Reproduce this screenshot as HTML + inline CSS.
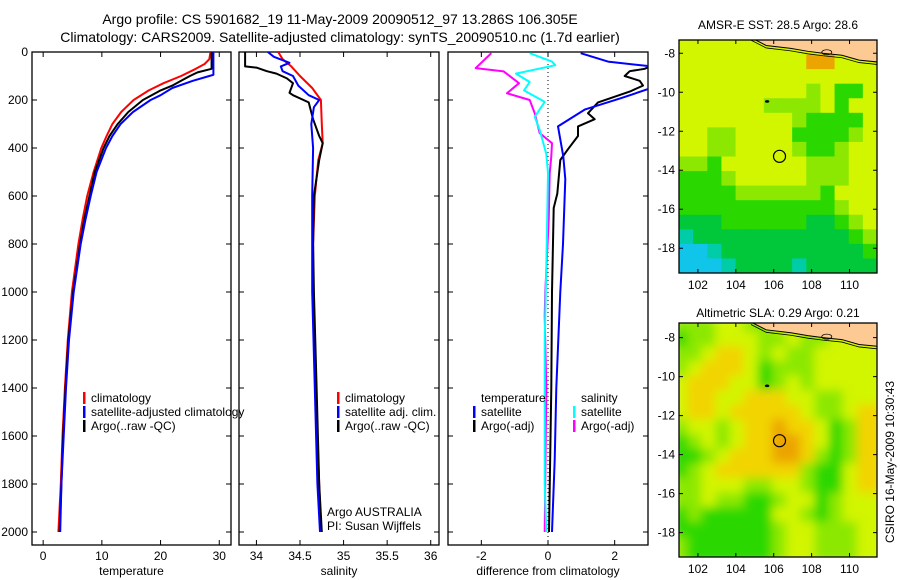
<!DOCTYPE html>
<html><head><meta charset="utf-8"><style>
html,body{margin:0;padding:0;background:#fff;width:900px;height:580px;overflow:hidden}
svg text{font-family:"Liberation Sans",sans-serif;fill:#000}
</style></head><body>
<svg id="fig" width="900" height="580" viewBox="0 0 900 580" xmlns="http://www.w3.org/2000/svg">
<defs>
<filter id="blur" x="0" y="0" width="1" height="1"><feGaussianBlur stdDeviation="5"/></filter>
<clipPath id="cp1"><rect x="32" y="52" width="199" height="493"/></clipPath>
<clipPath id="cp2"><rect x="239" y="52" width="200" height="493"/></clipPath>
<clipPath id="cp3"><rect x="448" y="52" width="200" height="493"/></clipPath>
<clipPath id="cpm1"><rect x="679" y="40" width="198" height="233"/></clipPath>
<clipPath id="cpm2"><rect x="679" y="323" width="198" height="234"/></clipPath>
</defs>
<text x="340" y="24" font-size="14" text-anchor="middle">Argo profile: CS 5901682_19 11-May-2009 20090512_97 13.286S 106.305E</text>
<text x="340" y="42" font-size="14" text-anchor="middle">Climatology: CARS2009. Satellite-adjusted climatology: synTS_20090510.nc (1.7d earlier)</text>
<g id="plots"></g>
<g id="maps"></g>
<text x="778" y="29" font-size="12" text-anchor="middle">AMSR-E SST: 28.5 Argo: 28.6</text>
<text x="778" y="317" font-size="12" text-anchor="middle">Altimetric SLA: 0.29 Argo: 0.21</text>
<text transform="translate(894,462) rotate(-90)" font-size="12" text-anchor="middle">CSIRO 16-May-2009 10:30:43</text>
</svg>
<script>
// ---- data ----
const depthTicks=[0,200,400,600,800,1000,1200,1400,1600,1800,2000];
const tempTicks=[0,10,20,30];
const salTicks=[34,34.5,35,35.5,36];
const diffTicks=[-2,0,2];
const tempClim=[[0,28.5],[30,28.3],[50,27.5],[70,26],[100,23.5],[130,20.5],[160,18],[200,15.4],[250,13.3],[300,11.8],[350,10.8],[400,9.9],[500,8.6],[600,7.5],[700,6.7],[800,6],[1000,4.9],[1200,4.2],[1400,3.7],[1600,3.3],[1800,3],[2000,2.6]];
const tempSat=[[0,29],[95,29],[100,28.3],[120,25.5],[150,22],[180,20],[200,18.3],[250,15.3],[300,13.2],[350,11.8],[400,10.7],[500,9.1],[600,8.1],[700,7.2],[800,6.4],[1000,5.2],[1200,4.4],[1400,3.9],[1600,3.5],[1800,3.1],[2000,2.9]];
const tempArgo=[[0,28.7],[70,28.7],[85,26.3],[100,25],[120,23.5],[140,22],[160,20],[200,17],[250,14.5],[300,12.7],[350,11.3],[400,10.3],[500,8.8],[600,7.9],[700,7],[800,6.3],[1000,5.1],[1200,4.3],[1400,3.8],[1600,3.4],[1800,3.1],[2000,2.8]];
const salClim=[[0,34.25],[30,34.3],[60,34.4],[100,34.5],[150,34.64],[200,34.74],[300,34.75],[380,34.76],[450,34.71],[600,34.67],[800,34.65],[1000,34.65],[1200,34.66],[1400,34.68],[1600,34.7],[1800,34.72],[2000,34.74]];
const salSat=[[0,34.13],[20,34.2],[45,34.38],[60,34.28],[80,34.3],[100,34.42],[140,34.48],[180,34.6],[200,34.72],[230,34.66],[300,34.63],[400,34.65],[600,34.64],[800,34.64],[1000,34.64],[1400,34.67],[1800,34.7],[2000,34.73]];
const salArgo=[[0,33.87],[60,33.87],[65,34.0],[80,34.12],[90,34.23],[110,34.35],[130,34.42],[170,34.38],[180,34.42],[210,34.6],[280,34.65],[350,34.72],[380,34.76],[450,34.72],[600,34.66],[800,34.65],[1000,34.66],[1400,34.69],[1800,34.72],[2000,34.75]];
const dSalArgo=[[5,-1.7],[67,-2.17],[81,-1.33],[130,-0.87],[172,-1.23],[200,-0.55],[255,-0.4],[338,-0.25],[380,0.12],[435,0.1],[505,0.05],[700,0.02],[1000,-0.08],[1100,-0.1],[1400,-0.05],[2000,-0.1]];
const dSalSat=[[5,-0.55],[40,0.12],[55,0.22],[90,-0.96],[125,-0.55],[160,-0.72],[208,-0.1],[270,-0.4],[325,-0.25],[425,-0.05],[505,0],[900,-0.05],[1200,-0.1],[1400,-0.1],[1800,-0.1],[2000,-0.05]];
const dTempSat=[[5,0.98],[40,1.8],[60,3.1],[150,3.1],[192,2.2],[240,1.1],[310,0.3],[435,0.46],[530,0.52],[800,0.45],[1000,0.37],[1400,0.25],[1700,0.2],[2000,0.12]];
const dTempArgo=[[50,3.2],[70,2.9],[80,2.45],[100,2.3],[120,2.75],[140,2.85],[165,2.45],[210,1.5],[255,1.2],[280,1.4],[310,0.9],[350,0.9],[405,0.6],[450,0.37],[590,0.28],[650,0.17],[1000,0.12],[1400,0.1],[2000,0.03]];

const NS='http://www.w3.org/2000/svg';
function mk(tag,attrs,parent){const e=document.createElementNS(NS,tag);for(const k in attrs)e.setAttribute(k,attrs[k]);parent.appendChild(e);return e;}
const plots=document.getElementById('plots');
const Y0=52,Y1=545;
const yScale=d=>52+d*(480/2000);
const panels=[
 {x0:32,x1:231,dom:[-1.9,32.0],ticks:tempTicks,label:'temperature',clip:'cp1',name:'temperature-panel'},
 {x0:239,x1:439,dom:[33.8,36.095],ticks:salTicks,label:'salinity',clip:'cp2',name:'salinity-panel'},
 {x0:448,x1:648,dom:[-3,3],ticks:diffTicks,label:'difference from climatology',clip:'cp3',name:'difference-panel'}
];
panels.forEach((p,i)=>{
 p.sx=v=>p.x0+(v-p.dom[0])/(p.dom[1]-p.dom[0])*(p.x1-p.x0);
 const g=mk('g',{},plots);
 
 
 const fr=mk('rect',{x:p.x0,y:Y0,width:p.x1-p.x0,height:Y1-Y0,fill:'none',stroke:'#000','stroke-width':1.3},g);
 
 
 p.ticks.forEach(t=>{
  const x=p.sx(t);
  mk('line',{x1:x,x2:x,y1:Y1,y2:Y1-5,stroke:'#000'},g);
  mk('line',{x1:x,x2:x,y1:Y0,y2:Y0+5,stroke:'#000'},g);
  const tl=mk('text',{x:x,y:Y1+15,'font-size':12,'text-anchor':'middle'},g);
  tl.textContent=t;
  
  
 });
 depthTicks.forEach(d=>{
  const y=yScale(d);
  mk('line',{x1:p.x0,x2:p.x0+5,y1:y,y2:y,stroke:'#000'},g);
  mk('line',{x1:p.x1,x2:p.x1-5,y1:y,y2:y,stroke:'#000'},g);
  if(i===0){const tl=mk('text',{x:28,y:y+4,'font-size':12,'text-anchor':'end'},g);tl.textContent=d;
   
   }
 });
 const xl=mk('text',{x:(p.x0+p.x1)/2,y:575,'font-size':12,'text-anchor':'middle'},g);
 xl.textContent=p.label;
 
 
});
function line(p,data,color,name,w){
 const pts=data.map(([d,v])=>p.sx(v).toFixed(1)+','+yScale(d).toFixed(1)).join(' ');
 const e=mk('polyline',{points:pts,fill:'none',stroke:color,'stroke-width':w||2,'clip-path':'url(#'+p.clip+')','stroke-linejoin':'round'},plots);
 
 
}
const zl=mk('line',{x1:panels[2].sx(0),x2:panels[2].sx(0),y1:Y0,y2:Y1,stroke:'#000','stroke-dasharray':'1,3'},plots);


line(panels[0],tempClim,'#f00','temp-climatology-line');
line(panels[0],tempArgo,'#000','temp-argo-line');
line(panels[0],tempSat,'#00f','temp-satellite-line');
line(panels[1],salClim,'#f00','sal-climatology-line');
line(panels[1],salArgo,'#000','sal-argo-line');
line(panels[1],salSat,'#00f','sal-satellite-line');
line(panels[2],dSalArgo,'#f0f','diff-sal-argo-line');
line(panels[2],dSalSat,'#0ff','diff-sal-satellite-line');
line(panels[2],dTempArgo,'#000','diff-temp-argo-line');
line(panels[2],dTempSat,'#00f','diff-temp-satellite-line');

function legend(x,y,color,txt,name){
 const g=mk('g',{},plots);
 
 
 if(color)mk('rect',{x:x,y:y-10,width:2.5,height:12,fill:color},g);
 const t=mk('text',{x:x+8,y:y,'font-size':12},g);t.textContent=txt;
}
legend(83,402,'#f00','climatology','legend-climatology');
legend(83,416,'#00f','satellite-adjusted climatology','legend-satellite-adjusted');
legend(83,430,'#000','Argo(..raw -QC)','legend-argo');
legend(337,402,'#f00','climatology','legend-sal-climatology');
legend(337,416,'#00f','satellite adj. clim.','legend-sal-satellite');
legend(337,430,'#000','Argo(..raw -QC)','legend-sal-argo');
legend(319,516,null,'Argo AUSTRALIA','argo-australia-label');
legend(319,530,null,'PI: Susan Wijffels','pi-label');
legend(473,402,null,'temperature','legend-temperature-header');
legend(473,416,'#00f','satellite','legend-temp-satellite');
legend(473,430,'#000','Argo(-adj)','legend-temp-argo');
legend(573,402,null,'salinity','legend-salinity-header');
legend(573,416,'#0ff','satellite','legend-sal-sat-diff');
legend(573,430,'#f0f','Argo(-adj)','legend-sal-argo-diff');

// ---- maps ----
const palette={Y:'#d2f500',L:'#8ce800',G:'#2ad800',D:'#00c83a',T:'#00cca8',C:'#10c4ea',O:'#eca400',R:'#f2d400',U:'#fdca94'};
const sstGrid=["YYYYYYYUUUUUUU","YYYYYYYYYOOYYY","YYYYYYYYYYYYYY","YYYYYYYYYLYGGY","YYYYYYLLLLYGYY","YYYYYYYYLGGGGY","YYLLYYYYGGGGLY","YYLLYYYYLGGLYY","LLGYYYYYYLLLYY","GGGLYYYYYLLLYY","GGGGLLLLLLGYYY","GGGGGGGGGGGLYY","DDDGGGGGGDDGLY","TDDDDDDDDDDDGL","CCTDDDDDDDDDDG","CCCTDDDDTDDDDD"];
const slaGrid=["LLLYYLLYYUUUUU","GLLYYYLLYLLYYY","LLYRRYLYLLYYYY","LYRRRYGLLLYYYY","YRRRYYGLYLYYYY","YRRYYRRRYYLLYY","YRRYRRRRRYLLYR","LYYLYRRORRYGLR","GLYLYRROORYGLR","GGLYRRROORLGLR","GLYRRRRRRLGGYR","LLYYYLLYYLGGYR","LLYLLGGLYYGLYY","GLGGGGGYYLGLYY","GGGGGGGLYYLLLY","LGGGGGGLYYLLLY"];
const lonTicks=[102,104,106,108,110];
const latTicks=[-8,-10,-12,-14,-16,-18];
const floatPos=[106.305,-13.286];
const maps=document.getElementById('maps');
function drawMap(grid,top,bot,latTop,latBot,clip,name,blur){
 const x0=679,x1=877,lon0=101.0,lon1=111.45;
 const sx=lo=>x0+(lo-lon0)/(lon1-lon0)*(x1-x0);
 const sy=la=>top+(latTop-la)/(latTop-latBot)*(bot-top);
 const g=mk('g',{},maps);
 
 
 const cg=mk('g',{'clip-path':'url(#'+clip+')'},g);
 const ig=mk('g',blur?{filter:'url(#blur)'}:{},cg);
 const nr=grid.length,nc=grid[0].length,cw=(x1-x0)/nc,ch=(bot-top)/nr;
 grid.forEach((row,r)=>{[...row].forEach((c,k)=>{
  mk('rect',{x:x0+k*cw-(blur?6:0),y:top+r*ch-(blur?6:0),width:cw+0.6+(blur?12:0),height:ch+0.6+(blur?12:0),fill:palette[c==='U'?'Y':c]},ig);
 });});
 // land
 const coast=[[104.8,-7.2],[105.6,-7.6],[106.9,-7.75],[107.8,-7.9],[108.6,-8.0],[109.6,-8.1],[110.5,-8.35],[111.5,-8.45]];
 const cpts=coast.map(([lo,la])=>sx(lo)+','+sy(la)).join(' ');
 const land=mk('polygon',{points:cpts+' '+sx(111.5)+','+(top-2)+' '+sx(104.8)+','+(top-2),fill:palette.U},cg);
 
 
 mk('polyline',{points:cpts,fill:'none',stroke:'#000','stroke-width':1},cg);
 mk('polyline',{points:coast.map(([lo,la])=>sx(lo)+','+(sy(la)+2.5)).join(' '),fill:'none',stroke:'#000','stroke-width':0.8},cg);
 mk('ellipse',{cx:sx(108.8),cy:sy(-7.95),rx:5,ry:2.5,fill:'none',stroke:'#000','stroke-width':0.8},cg);
 mk('ellipse',{cx:sx(105.65),cy:sy(-10.47),rx:2.2,ry:1.3,fill:'#000'},cg);
 const fc=mk('circle',{cx:sx(floatPos[0]),cy:sy(floatPos[1]),r:6,fill:'none',stroke:'#000','stroke-width':1.2},g);
 
 
 mk('rect',{x:x0,y:top,width:x1-x0,height:bot-top,fill:'none',stroke:'#000','stroke-width':1.3},g);
 lonTicks.forEach(lo=>{const x=sx(lo);
  mk('line',{x1:x,x2:x,y1:bot,y2:bot-4,stroke:'#000'},g);mk('line',{x1:x,x2:x,y1:top,y2:top+4,stroke:'#000'},g);
  const t=mk('text',{x:x,y:bot+16,'font-size':12,'text-anchor':'middle'},g);t.textContent=lo;
  
  });
 latTicks.forEach(la=>{const y=sy(la);
  mk('line',{x1:x0,x2:x0+4,y1:y,y2:y,stroke:'#000'},g);mk('line',{x1:x1,x2:x1-4,y1:y,y2:y,stroke:'#000'},g);
  const t=mk('text',{x:x0-4,y:y+4,'font-size':12,'text-anchor':'end'},g);t.textContent=la;
  
  });
}
drawMap(sstGrid,40,273,-7.32,-19.27,'cpm1','sst-map',false);
drawMap(slaGrid,323,557,-7.25,-19.25,'cpm2','sla-map',true);
</script>
</body></html>
